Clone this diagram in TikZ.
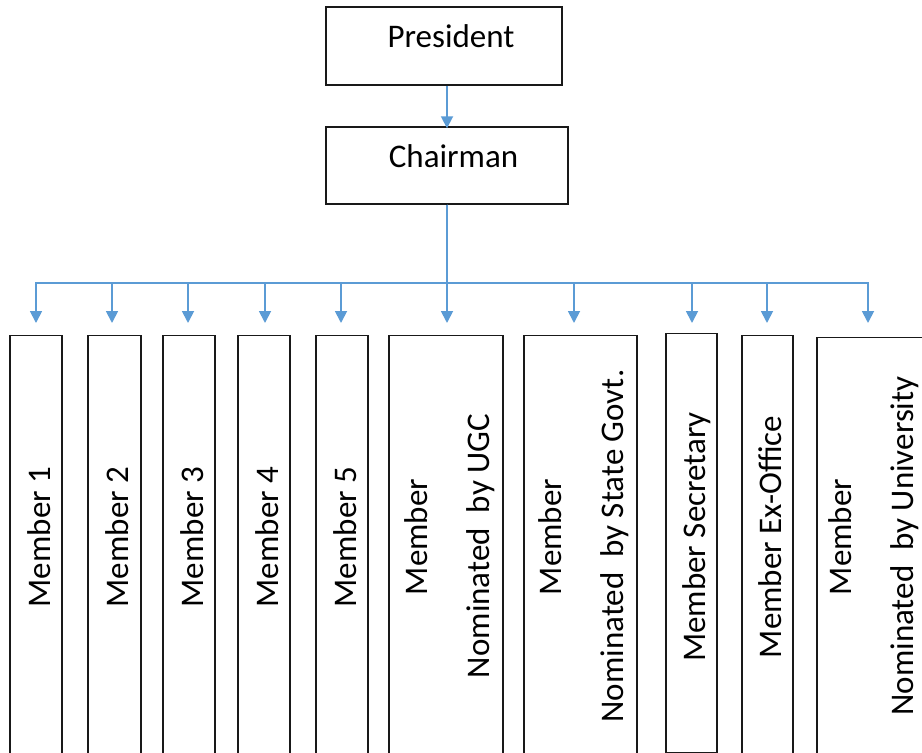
\documentclass[tikz,border=0pt]{standalone}
\usepackage{fontspec}
\setmainfont{Carlito}
\usetikzlibrary{arrows.meta}
\definecolor{connblue}{HTML}{5B9BD5}
\begin{document}
\begin{tikzpicture}[x=1pt,y=-1pt,
  box/.style={draw=black!90,line width=1.4pt,inner sep=0pt},
  mbox/.style={box,anchor=north,minimum height=419pt},
  arr/.style={draw=connblue,line width=1.8pt,-{Triangle[width=12pt,length=12pt]}},
  lbl/.style={font=\fontsize{33}{62}\selectfont,inner sep=0pt,text=black},
  vlbl/.style={lbl,rotate=90,anchor=base,align=center}]
\useasboundingbox (0,0) rectangle (922,753);
\clip (0,0) rectangle (922,753);
% top boxes
\node[box,minimum width=236pt,minimum height=78pt] (pres) at (444,46) {};
\node[box,minimum width=242pt,minimum height=77pt] (chair) at (447,165.5) {};
\node[lbl,anchor=base] (tpres) at (451,47) {President};
\node[lbl,anchor=base] (tchair) at (453.5,167) {Chairman};
% member boxes
\node[mbox,minimum width=52pt] (m1) at (36,335) {};
\node[mbox,minimum width=53pt] (m2) at (114.5,335) {};
\node[mbox,minimum width=52pt] (m3) at (189,335) {};
\node[mbox,minimum width=52pt] (m4) at (264,335) {};
\node[mbox,minimum width=52pt] (m5) at (342,335) {};
\node[mbox,minimum width=114pt] (m6) at (446,335) {};
\node[mbox,minimum width=113pt] (m7) at (580.5,335) {};
\node[mbox,minimum width=51pt] (m8) at (691.5,333) {};
\node[mbox,minimum width=51pt] (m9) at (767.5,335) {};
\node[mbox,minimum width=113pt] (m10) at (873.5,337) {};
% member labels
\node[vlbl] (l1) at (50,537) {Member 1};
\node[vlbl] (l2) at (128.5,537) {Member 2};
\node[vlbl] (l3) at (203,537) {Member 3};
\node[vlbl] (l4) at (278,537) {Member 4};
\node[vlbl] (l5) at (356,537) {Member 5};
\node[vlbl] (l6) at (489.5,537) {Member\\Nominated\ \ by UGC\makebox[18pt]{}};
\node[vlbl] (l7) at (623,537) {Member\\Nominated\ \ by State Govt.\makebox[18pt]{}};
\node[vlbl] (l8) at (705.5,537) {Member Secretary};
\node[vlbl] (l9) at (781.5,537) {Member Ex-Office};
\node[vlbl] (l10) at (913,537) {Member\\Nominated\ \ by University\makebox[18pt]{}};
% connectors
\coordinate (bus) at (0,283);
\coordinate (t1) at (36,323);
\coordinate (t2) at (112,323);
\coordinate (t3) at (188,323);
\coordinate (t4) at (265,323);
\coordinate (t5) at (341,323);
\coordinate (t7) at (574,323);
\coordinate (t8) at (692,323);
\coordinate (t9) at (767,323);
\coordinate (t10) at (868,323);
\draw[arr] (pres.south -| chair.south) -- ([yshift=-2pt]chair.north);
\draw[arr] (chair.south) -- (chair.south |- t1);
\foreach \t in {t1,t2,t3,t4,t5,t7,t8,t9,t10}
  \draw[arr] (chair.south) -- (chair.south |- bus) -| (\t);
\end{tikzpicture}
\end{document}
